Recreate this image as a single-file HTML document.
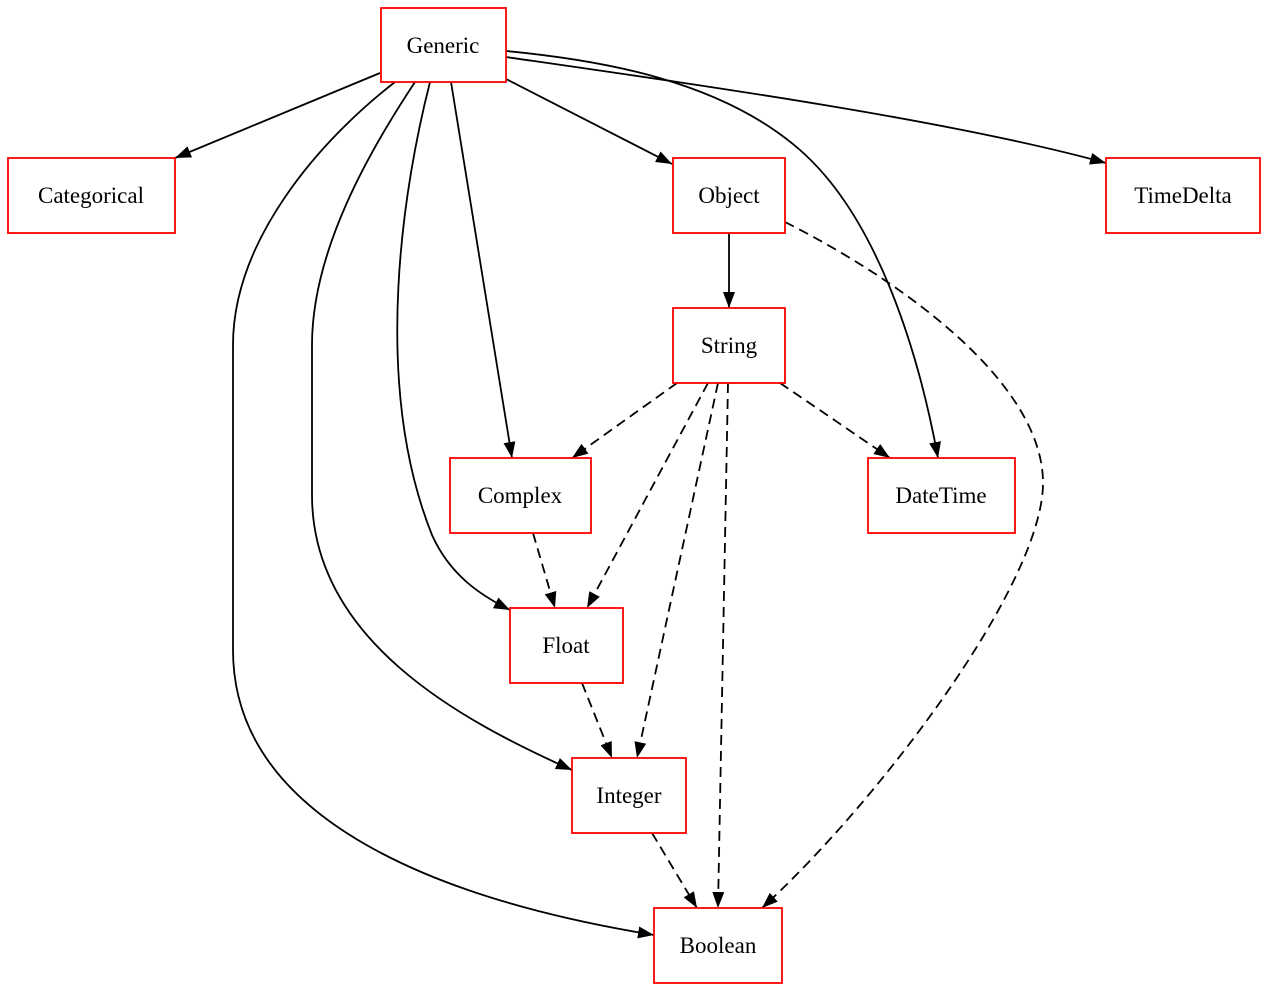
<!DOCTYPE html>
<html><head><meta charset="utf-8"><style>
html,body{margin:0;padding:0;background:#fff;}
svg{display:block;}
text{font-family:"Liberation Serif",serif;font-size:23px;fill:#000;}
</style></head><body>
<svg width="1269" height="992" viewBox="0 0 1269 992" xmlns="http://www.w3.org/2000/svg">
<defs>
<marker id="a" markerUnits="userSpaceOnUse" markerWidth="16" markerHeight="12" refX="16" refY="6" orient="auto">
<path d="M0,0 L16,6 L0,12 Z" fill="#000"/>
</marker>
</defs>
<g fill="none" stroke="#000" stroke-width="1.8" marker-end="url(#a)">
<path d="M380,73 L175,158"/>
<path d="M506,79 L672,164"/>
<path d="M506,57 C700,85 950,120 1106,163"/>
<path d="M506,51 C600,60 720,80 800,150 C880,220 920,360 938,458"/>
<path d="M451,82 L512,458"/>
<path d="M430,82 C405,180 370,380 432,535 C450,575 480,595 510,610"/>
<path d="M415,82 C370,150 312,250 312,345 L312,495 C312,640 460,720 572,770"/>
<path d="M395,82 C320,140 233,240 233,345 L233,650 C233,820 440,900 654,935"/>
<path d="M729,233 L729,308"/>
</g>
<g fill="none" stroke="#000" stroke-width="1.8" stroke-dasharray="10,6" marker-end="url(#a)">
<path d="M785,222 C900,280 1040,380 1043,480 C1046,580 880,800 762,908"/>
<path d="M677,383 L572,458"/>
<path d="M780,383 L890,458"/>
<path d="M708,383 L587,608"/>
<path d="M718,383 L637,758"/>
<path d="M728,383 L718,908"/>
<path d="M533,533 L555,608"/>
<path d="M582,683 L612,758"/>
<path d="M652,833 L697,908"/>
</g>
<g fill="#fff" stroke="#f00" stroke-width="1.8">
<rect x="381" y="8" width="125" height="74"/>
<rect x="8" y="158" width="167" height="75"/>
<rect x="673" y="158" width="112" height="75"/>
<rect x="1106" y="158" width="154" height="75"/>
<rect x="673" y="308" width="112" height="75"/>
<rect x="450" y="458" width="141" height="75"/>
<rect x="868" y="458" width="147" height="75"/>
<rect x="510" y="608" width="113" height="75"/>
<rect x="572" y="758" width="114" height="75"/>
<rect x="654" y="908" width="128" height="75"/>
</g>
<g text-anchor="middle">
<text x="443" y="53">Generic</text>
<text x="91" y="203">Categorical</text>
<text x="729" y="203">Object</text>
<text x="1183" y="203">TimeDelta</text>
<text x="729" y="353">String</text>
<text x="520" y="503">Complex</text>
<text x="941" y="503">DateTime</text>
<text x="566" y="653">Float</text>
<text x="629" y="803">Integer</text>
<text x="718" y="953">Boolean</text>
</g>
</svg>
</body></html>
